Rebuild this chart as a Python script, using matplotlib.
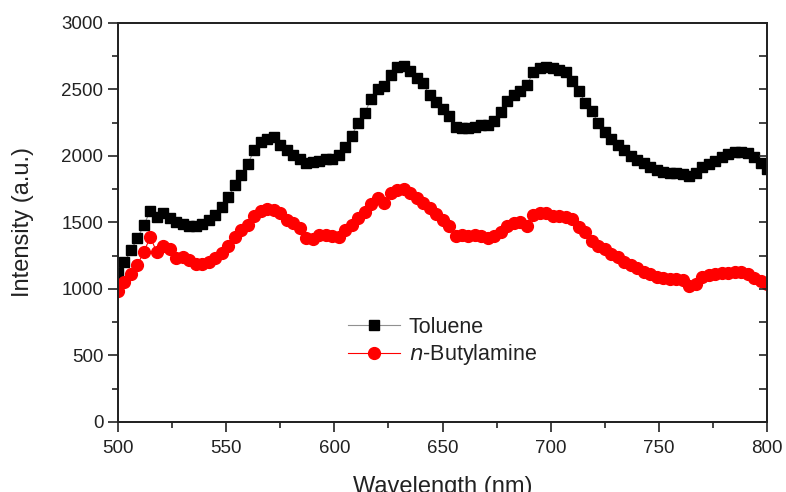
import numpy as np
import matplotlib
matplotlib.use("Agg")
import matplotlib.pyplot as plt
from matplotlib.ticker import MultipleLocator

plt.rcParams['font.family'] = ['Liberation Sans', 'DejaVu Sans']

# wavelength grid (nm), 3 nm step
wavelength = np.arange(500, 801, 3)

toluene = [
    1120, 1200, 1290, 1380, 1480, 1590, 1540, 1570, 1535, 1500,
    1485, 1470, 1470, 1485, 1515, 1560, 1620, 1690, 1780, 1860,
    1940, 2045, 2105, 2130, 2140, 2080, 2045, 2010, 1975, 1945,
    1955, 1965, 1975, 1980, 2005, 2065, 2150, 2250, 2320, 2430,
    2500, 2525, 2610, 2670, 2680, 2640, 2590, 2545, 2460, 2405,
    2355, 2300, 2215, 2210, 2210, 2215, 2230, 2235, 2265, 2330,
    2410, 2455, 2490, 2535, 2630, 2665, 2670, 2660, 2645, 2630,
    2560, 2490, 2400, 2335, 2250, 2180, 2125, 2080, 2045, 2000,
    1970, 1945, 1920, 1895, 1880, 1875, 1872, 1865, 1848, 1875,
    1915, 1940, 1965, 1995, 2015, 2030, 2032, 2022, 1990, 1950,
    1905,
]

butylamine = [
    985, 1055, 1115, 1180, 1280, 1390, 1275, 1320, 1300, 1235,
    1240, 1215, 1190, 1185, 1200, 1230, 1270, 1325, 1390, 1440,
    1480, 1550, 1585, 1605, 1595, 1570, 1520, 1495, 1455, 1380,
    1375, 1405, 1405, 1400, 1390, 1440, 1480, 1530, 1580, 1640,
    1685, 1650, 1725, 1745, 1748, 1725, 1685, 1650, 1610, 1565,
    1515, 1475, 1395, 1405, 1395, 1405, 1395, 1385, 1400, 1430,
    1470, 1495, 1505, 1470, 1560, 1572, 1570, 1552, 1545, 1544,
    1525, 1465, 1425, 1360, 1320, 1300, 1265, 1240, 1205, 1180,
    1155, 1130, 1112, 1093, 1082, 1077, 1072, 1065, 1020, 1040,
    1090, 1102, 1112, 1120, 1123, 1128, 1130, 1110, 1085, 1060,
    1040,
]

fig = plt.figure(figsize=(7.86, 4.92), dpi=100)
ax = fig.add_axes([0.150, 0.1423, 0.826, 0.811])

ax.plot(wavelength, toluene, color='#909090', lw=0.8, marker='s', ms=7,
        mfc='black', mec='black', label='Toluene')
ax.plot(wavelength, butylamine, color='red', lw=0.8, marker='o', ms=8.5,
        mfc='red', mec='red', label='$n$-Butylamine')

ax.set_xlim(500, 800)
ax.set_ylim(0, 3000)
ax.xaxis.set_major_locator(MultipleLocator(50))
ax.xaxis.set_minor_locator(MultipleLocator(25))
ax.yaxis.set_major_locator(MultipleLocator(500))
ax.yaxis.set_minor_locator(MultipleLocator(250))
ax.tick_params(which='major', direction='out', length=7, width=1.2,
               labelsize=13.5, color='#222222', labelcolor='#222222')
ax.tick_params(which='minor', direction='out', length=4, width=1.2,
               color='#222222')
ax.tick_params(axis='x', pad=6)

# inward ticks on the right spine
ax2 = ax.twinx()
ax2.set_ylim(0, 3000)
ax2.yaxis.set_major_locator(MultipleLocator(250))
ax2.tick_params(axis='y', direction='in', length=6, width=1.2,
                labelright=False, color='#222222')

for a in (ax, ax2):
    for s in a.spines.values():
        s.set_linewidth(1.3)
        s.set_color('#222222')

ax.set_xlabel('Wavelength (nm)', fontsize=17, labelpad=14, color='#222222')
ax.set_ylabel('Intensity (a.u.)', fontsize=17, labelpad=20, color='#222222')

leg = ax.legend(loc='center', bbox_to_anchor=(0.5, 0.2), frameon=False,
                fontsize=15.5, handlelength=2.4, handletextpad=0.4,
                labelspacing=0.2)
for t in leg.get_texts():
    t.set_color('#222222')

fig.savefig('out.png', dpi=100)
